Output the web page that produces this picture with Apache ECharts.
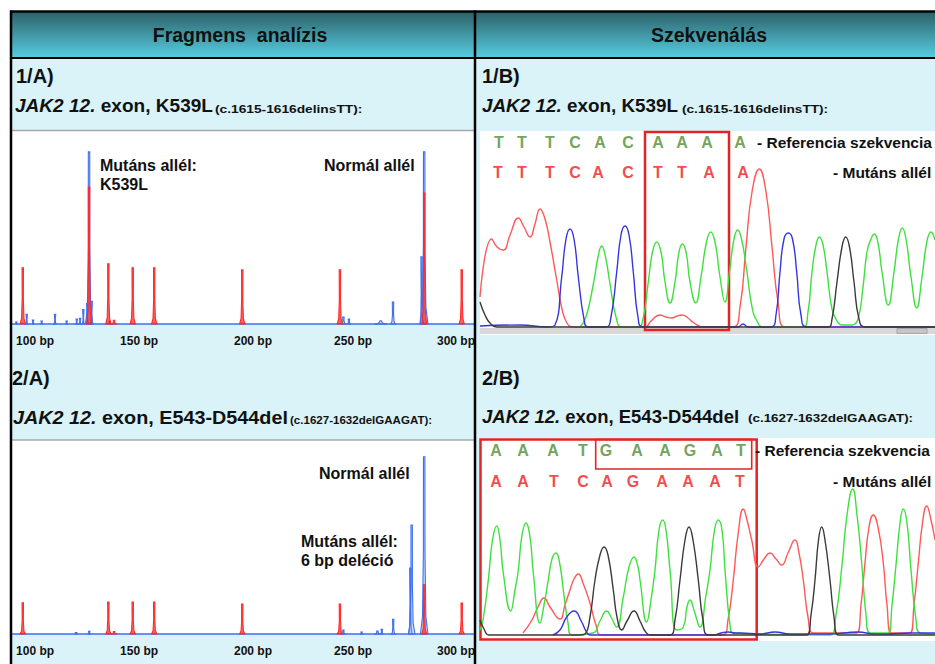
<!DOCTYPE html>
<html><head><meta charset="utf-8">
<script src="https://cdn.jsdelivr.net/npm/echarts@6/dist/echarts.min.js"></script>
<style>html,body{margin:0;padding:0;background:#fff}#c{width:935px;height:664px}</style>
</head><body><div id="c"></div>
<script>
// ---------- Fragment analysis (left column) ----------
const fragTickLabels = ['100 bp', '150 bp', '200 bp', '250 bp', '300 bp'];
const fragTickPos = [105.5, 152.9, 204.8, 250.4, 297.3];

// peaks: [size (bp), height, width (bp)]
const frag1Blue = [[97,1,1.2],[101.7,5,1.2],[104.6,2,1.2],[108.5,1.5,1.2],[114.6,5,1.2],[119.9,1.5,1.2],[124.5,2.5,1],[126,3,1],[127.5,7.4,1],[129.3,10.5,1],[130.1,88.7,3.2],[131.3,11.7,1.2],[139.6,1.4,1.5],[246,3.6,2.5],[248.5,2.5,2],[263,1.7,6],[268.6,11.3,2.2],[281.6,34.6,1.6],[282.8,88.7,3.4]];
const frag1Red = [[99.9,29,2.4],[130.1,70.6,2.2],[138.9,31,2.4],[141.5,1.9,3],[150,29,2.4],[159.8,29,2.4],[199.9,28,2.4],[244.4,28,2.4],[282.8,67.5,2.2],[299.9,28,2.4]];
const frag2Blue = [[124.2,0.8,1.5],[130.2,1.4,1.5],[246,2,2],[254.3,1,1.5],[261.5,1.5,3],[263.5,2.4,1.5],[268.7,7.6,1.8],[276.5,34,1.6],[277.1,56.2,3],[282.8,91.4,3.4]];
const frag2Red = [[99.9,16.1,2.4],[138.9,16.5,2.4],[141.5,1.2,3],[150,16.5,2.4],[159.8,16.5,2.4],[199.9,15.5,2.4],[244.4,15.5,2.4],[282.8,25.4,2.2],[299.9,16,2.4]];

// ---------- Sequencing chromatograms (right column): [scan, intensity] ----------
const seq1T = [[0,30],[11.7,88],[17,80],[23.3,77],[30,92],[38.3,109],[44,100],[50,90],[55,103],[60,118],[65,108],[70,85],[76.7,47],[82,18],[87,4],[93,0],[165,0],[171,6],[180,12],[186,10],[191.7,9],[197,11],[202.3,12],[208,9],[214,4],[223,0],[253,0],[260,20],[266,80],[272,135],[279.3,158],[286,135],[292,80],[298,25],[305,0],[455,0]];
const seq1C = [[0,1],[40,2],[68,0],[75,2],[81.7,50],[86,88],[90,98],[94,88],[98.3,50],[104,8],[108,0],[126,0],[131,10],[136.7,55],[141,92],[145,101],[149,92],[153.3,55],[158,10],[163,0],[258,0],[263,3],[268,0],[291,0],[296,12],[300,55],[304,88],[308.3,94],[312.5,88],[316.7,55],[321,12],[327,0],[455,0]];
const seq1A = [[100,0],[106,10],[113.7,45],[118,70],[121.7,81],[125.5,70],[129.7,45],[136,10],[142,0],[158,0],[163,8],[168.3,45],[172.5,75],[176.7,85],[181,75],[185,45],[190,24],[195,45],[199,75],[202.3,83],[206,75],[210,45],[215.7,24],[221,50],[226.5,85],[230.7,95],[235,85],[240,50],[245,25],[249.5,55],[254,88],[257.7,97],[261.5,88],[266.7,57],[272,20],[277,6],[283,0],[323,0],[328,15],[332,55],[336,82],[339.3,90],[343,82],[347,55],[352,18],[357,6],[362,2],[372,2],[378,8],[383,40],[387,75],[391,88],[394.3,93],[398,84],[402,55],[408.3,22],[414,55],[418.5,88],[422.3,99],[426,88],[431,50],[436.7,19],[442,50],[447,86],[451,95],[455,87]];
const seq1G = [[0,25],[5,12],[10,4],[16.7,0],[348,0],[352,8],[357,45],[362,80],[365.7,90],[369.5,80],[374,45],[379,8],[385,0],[455,0]];
const seq1RefBases = ['T','T','T','C','A','C','A','A','A','A'];
const seq1RefPos = [19,42,70,95,120,148,178,202,227,260];
const seq1MutBases = ['T','T','T','C','A','C','T','T','A','A'];
const seq1MutPos = [18,42,70,95,118,148,178,202,229,263];

const seq2T = [[43,2],[52,15],[58,28],[64,37],[70,28],[80,16],[85,30],[90,45],[94,56],[98.3,61],[103,52],[110,32],[116,10],[121.7,0],[243,0],[248,15],[253.3,55],[258,100],[263.3,126],[267,115],[271.7,95],[278.3,68],[284,76],[290,82],[296,76],[301.7,70],[308,82],[315,95],[319,82],[323.3,55],[328,18],[333.3,2],[376.7,2],[381,30],[385,72],[389,108],[393.3,120],[398,108],[403.3,72],[407,30],[411.7,2],[430,2],[434,30],[438.3,72],[442.5,112],[446.7,129],[451,115],[455,95]];
const seq2C = [[73,0],[80,5],[86.7,18],[94,24],[101.7,13],[106,4],[110,0],[233,0],[241,2],[248.3,3],[255,2],[260,2],[280,1],[295,3],[310,1],[323,1],[350,1],[378,3],[395,1],[406,1],[430,2],[455,2]];
const seq2A = [[0,5],[3,15],[8.3,55],[12.5,95],[16.7,109],[20,95],[23.3,62],[30.7,24],[35,45],[38.3,65],[42,100],[46,112],[50,98],[53.3,62],[60,12],[64,30],[68.3,55],[72,76],[76,82],[80,70],[83.3,45],[88,12],[91.7,0],[113,2],[120,14],[126.7,24],[131,18],[136.7,8],[143.3,38],[149,68],[154,78],[158,68],[160,55],[166.7,13],[171,35],[175,65],[179,105],[182.7,115],[186,105],[190,65],[196.7,5],[203.3,8],[207,28],[210,35],[214,25],[220,8],[226,40],[230,65],[234.5,105],[238.3,115],[242,105],[245,65],[250,10],[253.3,2],[350,0],[356,20],[362,70],[367,120],[372.7,146],[377,120],[381.7,72],[386,20],[390,2],[408,2],[412,30],[416,70],[420,112],[423.3,126],[427,112],[431,65],[436,15],[440,2],[455,1]];
const seq2G = [[0,15],[4,6],[9,0],[100,0],[105,1],[110,18],[115,55],[120,80],[124,88],[128,80],[133.3,45],[137,18],[141.7,5],[147,14],[154,24],[160,14],[165,4],[170,0],[190,0],[195,15],[200,55],[205,95],[209,108],[213,95],[218.3,55],[223,15],[228.3,0],[326.7,0],[331,20],[335,55],[338.5,95],[341.7,108],[345,95],[350,55],[354,18],[358.3,0],[455,0]];
const seq2RefBases = ['A','A','A','T','G','A','A','G','A','T'];
const seq2RefPos = [16,43,73,103,126,157,185,210,237,261];
const seq2MutBases = ['A','A','T','C','A','G','A','A','A','T'];
const seq2MutPos = [16,43,74,103,127,153,182,208,235,260];

// boxes [x1, y1, x2, y2] in scan/intensity units
const seq1Box = [165, -3, 249, 195];
const seq2BoxBig = [0.5, -4.5, 276.7, 195.5];
const seq2BoxSmall = [115.7, 166, 271.7, 195.5];

// ---------- rendering ----------
const FONT = 'Liberation Sans, Arial, Helvetica, sans-serif';
const chart = echarts.init(document.getElementById('c'), null, {renderer: 'svg'});

function spikeRenderer(stroke, fill) {
  return function (params, api) {
    const p = api.value(0), h = api.value(1), w = api.value(2);
    const b = api.coord([p, 0]), t = api.coord([p, h]);
    const l = api.coord([p - w / 2, 0]), r = api.coord([p + w / 2, 0]);
    const hp = b[1] - t[1];
    const hw = (r[0] - l[0]) / 2;
    const pts = [[l[0], b[1]], [b[0] - hw * 0.45, b[1] - hp * 0.1], [b[0] - hw * 0.22, b[1] - hp * 0.45],
      [t[0] - 0.7, t[1]], [t[0] + 0.7, t[1]], [b[0] + hw * 0.22, b[1] - hp * 0.45],
      [b[0] + hw * 0.45, b[1] - hp * 0.1], [r[0], b[1]]];
    return {type: 'polygon', shape: {points: pts}, style: {fill: fill, stroke: stroke, lineWidth: 1.1}};
  };
}
function spikeSeries(data, gi, stroke, fill, z) {
  return {type: 'custom', xAxisIndex: gi, yAxisIndex: gi, data: data, z: z,
    renderItem: spikeRenderer(stroke, fill), encode: {x: 0, y: 1}, silent: true};
}
function trace(data, gi, color) {
  return {type: 'line', xAxisIndex: gi, yAxisIndex: gi, data: data, smooth: 0.5,
    showSymbol: false, symbol: 'none', lineStyle: {color: color, width: 1.4}, silent: true, z: 3};
}
function letters(pos, bases, y, gi, color) {
  return {type: 'scatter', xAxisIndex: gi, yAxisIndex: gi, symbolSize: 0, silent: true, z: 5,
    data: pos.map((x, i) => ({name: bases[i], value: [x, y]})),
    label: {show: true, position: 'inside', formatter: '{b}', color: color, fontWeight: 'bold', fontSize: 16, fontFamily: FONT}};
}
function box(gi, boxes, widths) {
  return {type: 'scatter', xAxisIndex: gi, yAxisIndex: gi, data: [], silent: true, z: 6,
    markArea: {silent: true, label: {show: false},
      data: boxes.map((bx, i) => [{coord: [bx[0], bx[1]], itemStyle: {color: 'rgba(0,0,0,0)', borderColor: '#e42424', borderWidth: widths[i]}}, {coord: [bx[2], bx[3]]}])}};
}
function fragX(gi) {
  return {type: 'value', gridIndex: gi, min: 95, max: 305.5, splitLine: {show: false},
    axisTick: {show: false}, axisLine: {show: true, onZero: true, lineStyle: {color: '#3d6ff0', width: 1.6}},
    axisLabel: {customValues: fragTickPos, formatter: v => fragTickLabels[fragTickPos.indexOf(v)],
      margin: 10.5, fontWeight: 'bold', fontSize: 12, color: '#111', fontFamily: FONT}};
}
function hideAx(gi, min, max) {
  return {type: 'value', gridIndex: gi, min: min, max: max, show: false, splitLine: {show: false}};
}
function txt(x, y, text, font, align) {
  return {type: 'text', x: x, y: y, z: 100, silent: true,
    style: {text: text, font: font, fill: '#111', verticalAlign: 'middle', align: align || 'left'}};
}
function sub(x, y, head, tail, sx) {
  return {type: 'text', x: x, y: y, z: 100, silent: true, scaleX: sx,
    style: {text: '{i|' + head + '}{n| ' + tail + '}', verticalAlign: 'middle', align: 'left',
      rich: {i: {font: 'italic bold 18.5px ' + FONT, fill: '#111'}, n: {font: 'bold 18.5px ' + FONT, fill: '#111'}}}};
}
function small(x, y, text, sx) {
  return {type: 'text', x: x, y: y, z: 100, scaleX: sx, silent: true,
    style: {text: text, font: 'bold 11px ' + FONT, fill: '#111', verticalAlign: 'middle', align: 'left'}};
}
const B16 = 'bold 16px ' + FONT;
const B15 = 'bold 15.5px ' + FONT;

const option = {
  animation: false,
  backgroundColor: '#fff',
  grid: [
    {left: 12, top: 130, width: 462, height: 194, show: true, backgroundColor: '#fff', borderWidth: 0},
    {left: 12, top: 440, width: 462, height: 194, show: true, backgroundColor: '#fff', borderWidth: 0},
    {left: 480, top: 131, width: 455, height: 204, show: true, backgroundColor: '#fff', borderWidth: 0},
    {left: 480, top: 438, width: 455, height: 203, show: true, backgroundColor: '#fff', borderWidth: 0}
  ],
  xAxis: [fragX(0), fragX(1), hideAx(2, 0, 455), hideAx(3, 0, 455)],
  yAxis: [hideAx(0, 0, 100), hideAx(1, 0, 100), hideAx(2, -8, 196), hideAx(3, -6, 197)],
  series: [
    spikeSeries(frag1Blue, 0, '#3d6ff0', 'rgba(120,160,255,0.35)', 3),
    spikeSeries(frag1Red, 0, '#ff2a2a', 'rgba(240,0,0,0.6)', 4),
    spikeSeries(frag2Blue, 1, '#3d6ff0', 'rgba(120,160,255,0.35)', 3),
    spikeSeries(frag2Red, 1, '#ff2a2a', 'rgba(240,0,0,0.6)', 4),
    trace(seq1T, 2, '#ff5858'), trace(seq1A, 2, '#3ee03e'), trace(seq1C, 2, '#3535e0'), trace(seq1G, 2, '#3a3a3a'),
    letters(seq1RefPos, seq1RefBases, 184.5, 2, '#4d8c2c'),
    letters(seq1MutPos, seq1MutBases, 154.5, 2, '#ee1c1c'),
    box(2, [seq1Box], [2.5]),
    trace(seq2T, 3, '#ff5858'), trace(seq2A, 3, '#3ee03e'), trace(seq2C, 3, '#3535e0'), trace(seq2G, 3, '#3a3a3a'),
    letters(seq2RefPos, seq2RefBases, 184.5, 3, '#4d8c2c'),
    letters(seq2MutPos, seq2MutBases, 154, 3, '#ee1c1c'),
    box(3, [seq2BoxBig, seq2BoxSmall], [2.5, 1.6])
  ],
  graphic: [
    {type: 'rect', z: -5, silent: true, shape: {x: 10, y: 11, width: 930, height: 660}, style: {fill: '#daf3f8'}},
    {type: 'rect', z: -4, silent: true, shape: {x: 10, y: 11, width: 930, height: 47},
      style: {fill: new echarts.graphic.LinearGradient(0, 0, 0, 1, [{offset: 0, color: '#2c5f66'}, {offset: 1, color: '#56cee2'}])}},
    {type: 'rect', z: 1, silent: true, shape: {x: 480, y: 328, width: 455, height: 6}, style: {fill: '#d8d8d8'}},
    {type: 'rect', z: 1, silent: true, shape: {x: 897, y: 328.5, width: 30, height: 5}, style: {fill: '#c6c6c6', stroke: '#9a9a9a', lineWidth: 0.8}},
    {type: 'line', z: 90, silent: true, shape: {x1: 12, y1: 130.5, x2: 474, y2: 130.5}, style: {stroke: '#a8a8a8', lineWidth: 1.5}},
    {type: 'line', z: 90, silent: true, shape: {x1: 12, y1: 440, x2: 474, y2: 440}, style: {stroke: '#a8a8a8', lineWidth: 1.5}},
    {type: 'line', z: 110, silent: true, shape: {x1: 10, y1: 11.5, x2: 940, y2: 11.5}, style: {stroke: '#000', lineWidth: 2.5}},
    {type: 'line', z: 110, silent: true, shape: {x1: 10, y1: 58, x2: 940, y2: 58}, style: {stroke: '#000', lineWidth: 2.2}},
    {type: 'line', z: 110, silent: true, shape: {x1: 11, y1: 10.5, x2: 11, y2: 670}, style: {stroke: '#000', lineWidth: 2.5}},
    {type: 'line', z: 110, silent: true, shape: {x1: 475, y1: 10.5, x2: 475, y2: 670}, style: {stroke: '#000', lineWidth: 2.5}},
    txt(240, 35, 'Fragmens  analízis', 'bold 19.5px ' + FONT, 'center'),
    txt(709, 35, 'Szekvenálás', 'bold 19.5px ' + FONT, 'center'),
    txt(16, 76, '1/A)', 'bold 20px ' + FONT),
    txt(482, 76, '1/B)', 'bold 20px ' + FONT),
    txt(12, 377.5, '2/A)', 'bold 20px ' + FONT),
    txt(482, 377.5, '2/B)', 'bold 20px ' + FONT),
    sub(15, 105.5, 'JAK2 12.', 'exon, K539L', 1.03),
    sub(482, 105.5, 'JAK2 12.', 'exon, K539L', 1.02),
    sub(13, 417.5, 'JAK2 12.', 'exon, E543-D544del', 1.07),
    sub(482, 416, 'JAK2 12.', 'exon, E543-D544del', 1.0),
    small(215, 109.3, '(c.1615-1616delinsTT):', 1.25),
    small(682, 109.3, '(c.1615-1616delinsTT):', 1.24),
    small(290, 420, '(c.1627-1632delGAAGAT):', 1.05),
    small(748, 418.5, '(c.1627-1632delGAAGAT):', 1.22),
    txt(100, 165, 'Mutáns allél:', B16),
    txt(100, 184.5, 'K539L', B16),
    txt(324, 165, 'Normál allél', B16),
    txt(319, 473, 'Normál allél', B16),
    txt(301, 541, 'Mutáns allél:', B16),
    txt(301, 560, '6 bp deléció', B16),
    txt(757, 142.5, '- Referencia szekvencia', B15),
    txt(833, 172.5, '- Mutáns allél', B15),
    txt(755, 450.5, '- Referencia szekvencia', B15),
    txt(833, 481, '- Mutáns allél', B15)
  ]
};
chart.setOption(option);
</script>
</body></html>
